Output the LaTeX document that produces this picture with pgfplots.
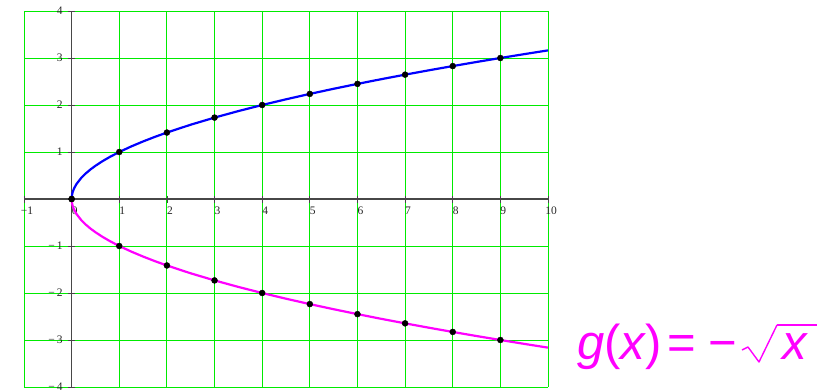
\documentclass[border=0pt]{standalone}
\usepackage{pgfplots}
\usepackage{pgfplotstable}
\pgfplotsset{compat=1.18}
\usepackage{fontspec}
\setmainfont{Liberation Serif}
\newfontfamily\labelfont{Liberation Sans}
\definecolor{gridgreen}{RGB}{0,235,0}
\definecolor{curveblue}{RGB}{0,0,255}
\definecolor{curvemag}{RGB}{255,0,255}

% square-root branches f(x)=sqrt(x), g(x)=-sqrt(x)
\pgfplotstableread{
x      f       g
0      0       0
0.005  0.0707  -0.0707
0.02   0.1414  -0.1414
0.05   0.2236  -0.2236
0.1    0.3162  -0.3162
0.2    0.4472  -0.4472
0.3    0.5477  -0.5477
0.4    0.6325  -0.6325
0.5    0.7071  -0.7071
0.65   0.8062  -0.8062
0.8    0.8944  -0.8944
1      1       -1
1.25   1.1180  -1.1180
1.5    1.2247  -1.2247
1.75   1.3229  -1.3229
2      1.4142  -1.4142
2.5    1.5811  -1.5811
3      1.7321  -1.7321
3.5    1.8708  -1.8708
4      2       -2
4.5    2.1213  -2.1213
5      2.2361  -2.2361
5.5    2.3452  -2.3452
6      2.4495  -2.4495
6.5    2.5495  -2.5495
7      2.6458  -2.6458
7.5    2.7386  -2.7386
8      2.8284  -2.8284
8.5    2.9155  -2.9155
9      3       -3
9.5    3.0822  -3.0822
10     3.1623  -3.1623
}\curves

% integer sample points
\pgfplotstableread{
x  f       g
0  0       0
1  1       -1
2  1.4142  -1.4142
3  1.7321  -1.7321
4  2       -2
5  2.2361  -2.2361
6  2.4495  -2.4495
7  2.6458  -2.6458
8  2.8284  -2.8284
9  3       -3
}\points

\begin{document}
\begin{tikzpicture}
\path[use as bounding box] (0,0) rectangle (823pt,389pt);
\begin{axis}[
  at={(24pt,2pt)}, anchor=south west,
  scale only axis, width=524pt, height=376pt,
  xmin=-1, xmax=10, ymin=-4, ymax=4,
  axis lines=middle,
  axis line style={-, draw=black!72, line width=1.1pt},
  xtick={-1,0,...,10},
  ytick={-4,-3,-2,-1,1,2,3,4},
  hide obscured x ticks=false,
  grid=major,
  major grid style={draw=gridgreen, line width=0.9pt},
  major tick length=7pt,
  tick align=center,
  tick style={draw=black!72, line width=0.8pt},
  tick label style={font=\fontsize{11.5}{12}\selectfont, text=black!85},
  xticklabel={\pgfmathparse{int(\tick)}\ifnum\pgfmathresult<0 \textminus\pgfmathparse{int(-\tick)}\pgfmathresult\else\pgfmathresult\fi},
  yticklabel={\pgfmathparse{int(\tick)}\ifnum\pgfmathresult<0 \textminus\,\pgfmathparse{int(-\tick)}\pgfmathresult\else\pgfmathresult\fi},
  xticklabel style={anchor=north, xshift=3pt, yshift=-1pt},
  yticklabel style={anchor=east, xshift=-2pt},
  clip=false,
]
\addplot[curveblue, line width=2.2pt] table[x=x, y=f] {\curves};
\addplot[curvemag, line width=2.2pt] table[x=x, y=g] {\curves};
\addplot[only marks, mark=*, mark size=3pt, black] table[x=x, y=f] {\points};
\addplot[only marks, mark=*, mark size=3pt, black] table[x=x, y=g] {\points};
\end{axis}
% formula g(x) = -sqrt(x), baseline at y = 30pt
\begin{scope}[every node/.style={text=curvemag, inner sep=0pt,
    font=\labelfont\fontsize{49}{54}\selectfont}]
  \node[anchor=base west] at (577pt,30pt) {\itshape g\upshape(\itshape x\upshape)};
  \node[anchor=base] at (682pt,30pt) {=};
  \node[anchor=base] at (723pt,30pt) {\textminus};
  \draw[curvemag, line width=1.4pt, line join=round]
    (742pt,39pt) -- (748pt,42pt) -- (759pt,27pt) -- (777pt,64pt);
  \draw[curvemag, line width=2.4pt] (776.5pt,64pt) -- (817pt,64pt);
  \node[anchor=base west] at (782pt,30pt) {\itshape x};
\end{scope}
\end{tikzpicture}
\end{document}
